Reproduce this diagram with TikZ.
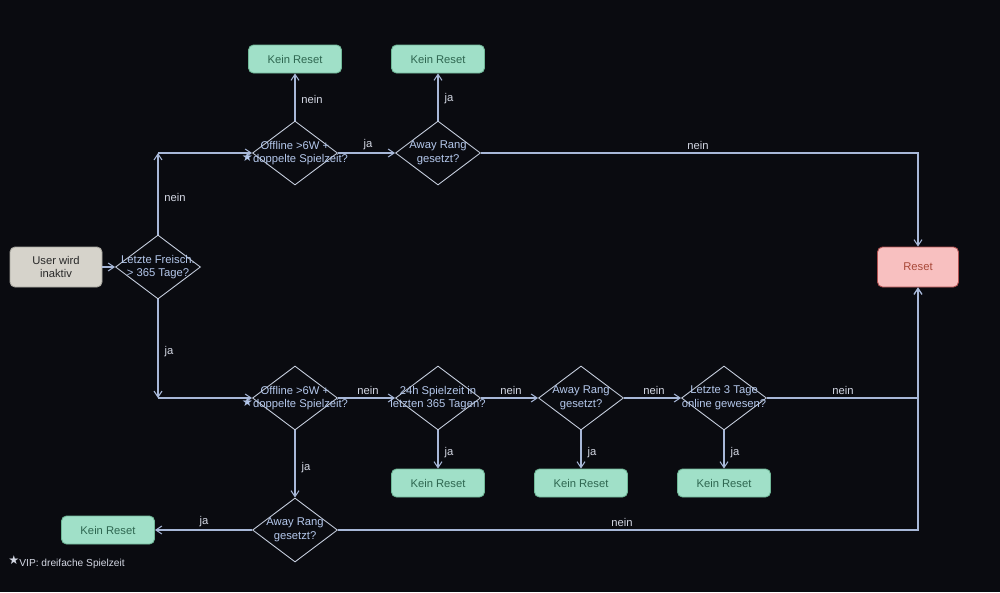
\documentclass[tikz,border=0pt]{standalone}
\usepackage{fontspec}
\setmainfont{Liberation Sans}
\newfontfamily\symfont{DejaVu Sans}
\usetikzlibrary{shapes.geometric,arrows.meta}
\definecolor{bg}{HTML}{0A0B10}
\definecolor{edge}{HTML}{A8B8D8}
\definecolor{dborder}{HTML}{C8D0E0}
\definecolor{dtext}{HTML}{B4C8EC}
\definecolor{ltext}{HTML}{D4D8E4}
\definecolor{kfill}{HTML}{A0E0C8}
\definecolor{kborder}{HTML}{70B898}
\definecolor{ktext}{HTML}{2E6650}
\definecolor{rfill}{HTML}{F8C0C0}
\definecolor{rborder}{HTML}{B05050}
\definecolor{rtext}{HTML}{A84838}
\definecolor{ufill}{HTML}{D6D3CB}
\definecolor{uborder}{HTML}{A8A69E}
\definecolor{utext}{HTML}{282828}
\newcommand{\vipstar}{{\symfont\fontsize{7}{7}\selectfont\raisebox{0.25ex}{★}}}
\tikzset{
  every node/.style={font=\fontsize{6.4}{7.8}\selectfont},
  kein/.style={draw=kborder, fill=kfill, text=ktext, rounded corners=0.1cm, line width=0.5pt,
    minimum width=93*0.02cm, minimum height=28*0.02cm, inner sep=0pt},
  resetbox/.style={draw=rborder, fill=rfill, text=rtext, rounded corners=0.1cm, line width=0.5pt,
    minimum width=81*0.02cm, minimum height=40*0.02cm, inner sep=0pt},
  userbox/.style={draw=uborder, fill=ufill, text=utext, rounded corners=0.1cm, line width=0.5pt,
    minimum width=92*0.02cm, minimum height=40*0.02cm, inner sep=0pt, align=center},
  dec/.style={diamond, draw=dborder, line width=0.5pt, inner sep=0pt,
    minimum width=85*0.02cm, minimum height=64*0.02cm},
  dtxt/.style={text=dtext, align=center, inner sep=0pt},
  conn/.style={draw=edge, line width=0.6pt, -{Straight Barb[length=1.2mm,width=1.6mm]}},
  elabel/.style={text=ltext, inner sep=1pt}
}
\begin{document}
\begin{tikzpicture}[x=0.02cm, y=-0.02cm]
\fill[bg] (0,0) rectangle (1000,592);
\useasboundingbox (0,0) rectangle (1000,592);

\node[userbox] (user) at (56,267) {User wird\\inaktiv};
\node[dec, label={[dtxt]center:Letzte Freisch.\\> 365 Tage?}] (d1) at (158,267) {};

\node[dec, label={[dtxt]center:Offline >6W +\\\vipstar doppelte Spielzeit?}] (d2) at (295,153) {};
\node[kein] (k1) at (295,59) {Kein Reset};
\node[dec, label={[dtxt]center:Away Rang\\gesetzt?}] (d3) at (438,153) {};
\node[kein] (k2) at (438,59) {Kein Reset};

\node[resetbox] (reset) at (918,267) {Reset};

\node[dec, label={[dtxt]center:Offline >6W +\\\vipstar doppelte Spielzeit?}] (d4) at (295,398) {};
\node[dec, label={[dtxt]center:24h Spielzeit in\\letzten 365 Tagen?}] (d5) at (438,398) {};
\node[dec, label={[dtxt]center:Away Rang\\gesetzt?}] (d6) at (581,398) {};
\node[dec, label={[dtxt]center:Letzte 3 Tage\\online gewesen?}] (d7) at (724,398) {};
\node[kein] (k3) at (438,483) {Kein Reset};
\node[kein] (k4) at (581,483) {Kein Reset};
\node[kein] (k5) at (724,483) {Kein Reset};

\node[dec, label={[dtxt]center:Away Rang\\gesetzt?}] (d8) at (295,530) {};
\node[kein] (k6) at (108,530) {Kein Reset};

\node[anchor=west, text=ltext, inner sep=0pt, font=\fontsize{5.8}{7}\selectfont] (note) at (8,562) {\vipstar VIP: dreifache Spielzeit};

\coordinate (cup) at (158,153);
\coordinate (cdown) at (158,398);
\coordinate (cr1) at (918,153);
\coordinate (cr2) at (918,398);
\coordinate (cr3) at (918,530);

% edges
\draw[conn] (user) -- (d1);
\draw[conn] (d1.north) -- (cup);
\draw[conn] (cup) -- (d2.west);
\node[elabel] (l1) at (175,197) {nein};
\draw[conn] (d1.south) -- (cdown);
\draw[conn] (cdown) -- (d4.west);
\node[elabel] (l2) at (169,352) {ja};

\draw[conn] (d2.north) -- (k1.south);
\node[elabel] (l3) at (312,99) {nein};
\draw[conn] (d2.east) -- (d3.west);
\node[elabel] (l4) at (368,145) {ja};
\draw[conn] (d3.north) -- (k2.south);
\node[elabel] (l5) at (449,99) {ja};
\draw[conn] (d3.east) -- (cr1) -- (reset.north);
\node[elabel] (l6) at (698,145) {nein};

\draw[conn] (d4.east) -- (d5.west);
\node[elabel] (l7) at (368,390) {nein};
\draw[conn] (d4.south) -- (d8.north);
\node[elabel] (l8) at (306,468) {ja};
\draw[conn] (d5.east) -- (d6.west);
\node[elabel] (l9) at (511,390) {nein};
\draw[conn] (d5.south) -- (k3.north);
\node[elabel] (l10) at (449,453) {ja};
\draw[conn] (d6.east) -- (d7.west);
\node[elabel] (l11) at (654,390) {nein};
\draw[conn] (d6.south) -- (k4.north);
\node[elabel] (l12) at (592,453) {ja};
\draw[conn] (d7.south) -- (k5.north);
\node[elabel] (l13) at (735,453) {ja};
\draw[conn] (d7.east) -- (cr2) -- (reset.south);
\node[elabel] (l14) at (843,390) {nein};

\draw[conn] (d8.west) -- (k6.east);
\node[elabel] (l15) at (204,522) {ja};
\draw[conn] (d8.east) -- (cr3) -- (reset.south);
\node[elabel] (l16) at (622,522) {nein};
\end{tikzpicture}
\end{document}
